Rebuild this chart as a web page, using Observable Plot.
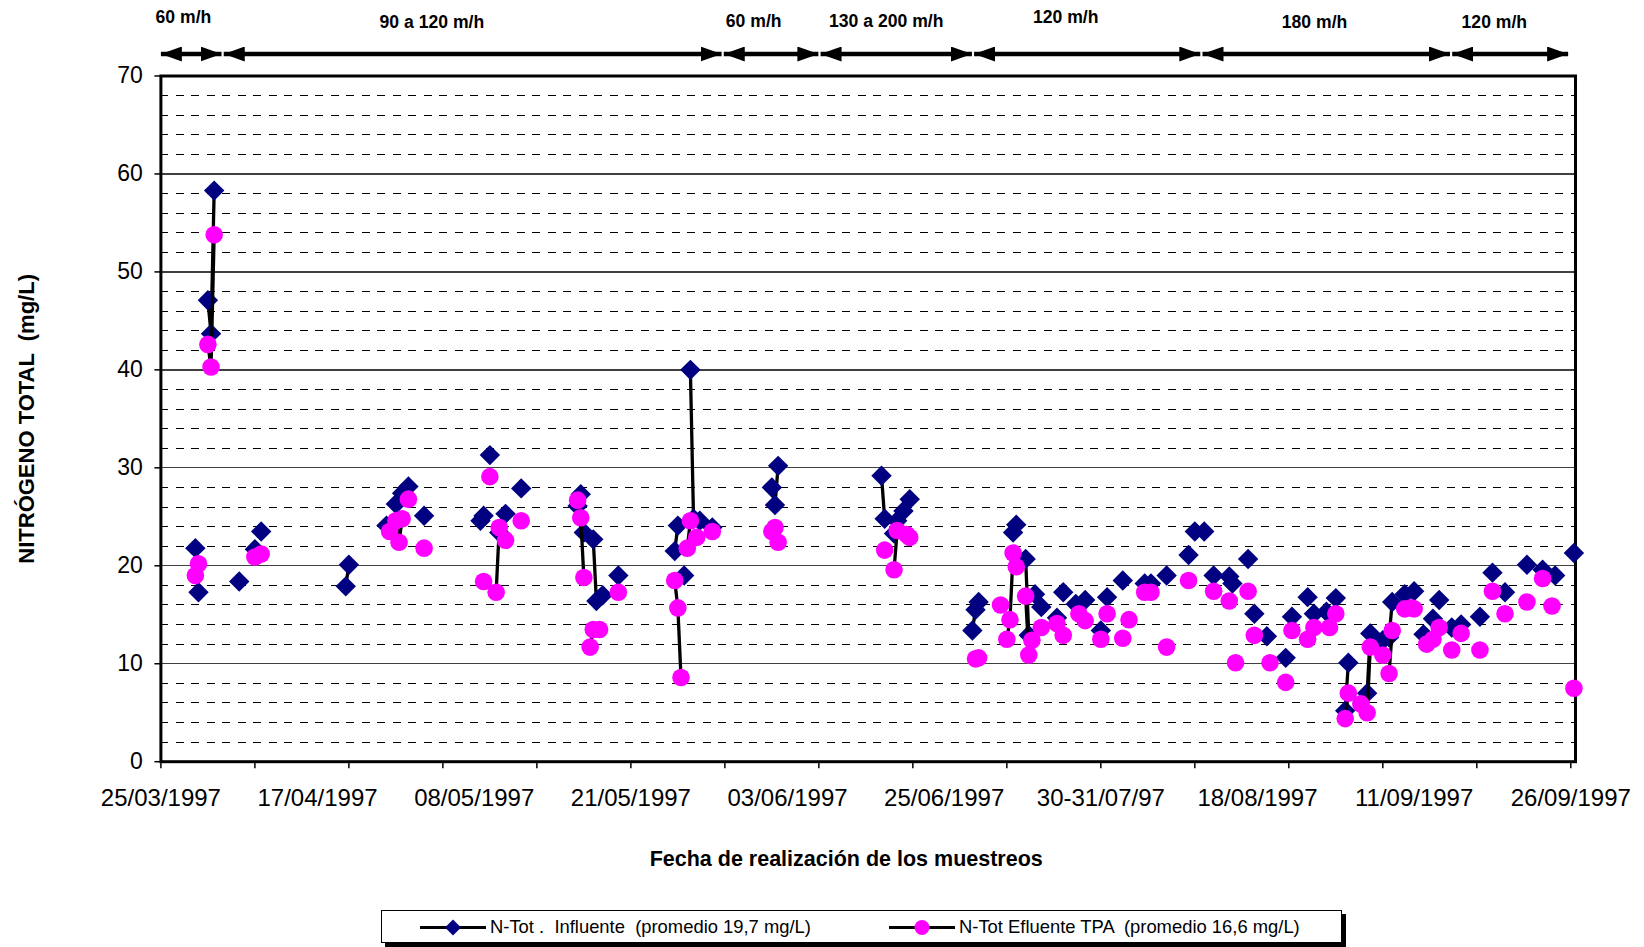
<!DOCTYPE html>
<html>
<head>
<meta charset="utf-8">
<script src="https://cdn.jsdelivr.net/npm/d3@7"></script>
<script src="https://cdn.jsdelivr.net/npm/@observablehq/plot@0.6"></script>
<style>
  html, body { margin: 0; padding: 0; background: #fff; }
  body { width: 1644px; height: 947px; overflow: hidden; font-family: Arial, "Liberation Sans", sans-serif; }
  #chart svg { display: block; }
  #chart svg text { white-space: pre; }
  #legend { position: relative; box-sizing: border-box; margin-left: 381px; margin-top: 10px;
            width: 961px; height: 33px; border: 1px solid #000; box-shadow: 4px 4px 0 #000; background: #fff; }
  .item { position: absolute; top: 0; height: 31px; display: flex; align-items: center;
          font-size: 18.4px; color: #000; white-space: pre; }
  .item svg { display: block; }
  .item span { margin-left: 3px; }
</style>
</head>
<body>
<div id="chart"></div>
<div id="legend"></div>
<script>
// ---------- DATA ----------
// x = sample number on the category axis (0 … 451), y = total nitrogen (mg/L)
const influente = [
  [11,21.8],[12,17.3],[15,47.1],[16,43.7],[17,58.3],[25,18.4],[30,21.7],[32,23.5],[59,17.9],[60,20.1],
  [72,24.1],[75,26.3],[77,27.4],[79,28.1],[84,25.1],[102,24.6],[103,25.1],[105,31.3],[108,23.4],[110,25.3],
  [115,27.9],[133,26.1],[134,27.3],[135,23.4],[138,22.7],[139,16.4],[141,17.0],[146,19.0],[164,21.5],[165,24.1],
  [167,19.0],[169,40.0],[170,24.8],[172,24.6],[176,23.9],[195,28.0],[196,26.2],[197,30.2],[230,29.2],[231,24.8],
  [234,23.3],[235,24.6],[237,25.6],[239,26.8],[259,13.4],[260,15.5],[261,16.3],[272,23.4],[273,24.2],[276,20.7],
  [277,12.9],[279,17.1],[281,15.8],[286,14.7],[288,17.3],[292,16.1],[295,16.5],[300,13.4],[302,16.8],[307,18.5],
  [314,18.2],[316,18.2],[321,19.0],[328,21.1],[330,23.5],[333,23.5],[336,19.0],[341,18.9],[342,18.2],[347,20.7],
  [349,15.1],[353,12.8],[359,10.6],[361,14.8],[366,16.8],[368,15.1],[372,15.3],[375,16.7],[378,5.2],[379,10.1],
  [385,7.0],[386,13.1],[390,12.4],[392,12.7],[393,16.3],[397,17.1],[400,17.4],[403,13.0],[406,14.6],[408,16.5],
  [412,13.7],[415,14.0],[421,14.8],[425,19.3],[429,17.3],[436,20.1],[441,19.6],[445,19.0],[451,21.3]
];
const efluente = [
  [11,19.0],[12,20.2],[15,42.6],[16,40.3],[17,53.8],[30,20.9],[32,21.2],[73,23.5],[75,24.6],[76,22.4],
  [77,24.8],[79,26.8],[84,21.8],[103,18.4],[105,29.1],[107,17.3],[108,23.9],[110,22.6],[115,24.6],[133,26.7],
  [134,24.9],[135,18.8],[137,11.7],[138,13.5],[140,13.5],[146,17.3],[164,18.5],[165,15.7],[166,8.6],[168,21.8],
  [169,24.6],[171,22.9],[176,23.5],[195,23.5],[196,23.9],[197,22.4],[231,21.6],[234,19.6],[235,23.6],[238,23.2],
  [239,22.9],[260,10.5],[261,10.6],[268,16.0],[270,12.5],[271,14.5],[272,21.3],[273,19.9],[276,16.9],[277,10.9],
  [278,12.4],[281,13.7],[286,14.1],[288,12.9],[293,15.1],[295,14.4],[300,12.5],[302,15.1],[307,12.6],[309,14.5],
  [314,17.3],[316,17.3],[321,11.7],[328,18.5],[336,17.4],[341,16.4],[343,10.1],[347,17.4],[349,12.9],[354,10.1],
  [359,8.1],[361,13.4],[366,12.5],[368,13.7],[373,13.7],[375,15.1],[378,4.4],[379,7.0],[383,5.9],[385,5.0],
  [386,11.7],[390,10.9],[392,9.0],[393,13.4],[397,15.6],[399,15.7],[400,15.6],[404,12.0],[406,12.5],[408,13.7],
  [412,11.4],[415,13.1],[421,11.4],[425,17.4],[429,15.1],[436,16.3],[441,18.7],[444,15.9],[451,7.5]
];
const seriesNames = ["N-Tot .  Influente  (promedio 19,7 mg/L)", "N-Tot Efluente TPA  (promedio 16,6 mg/L)"];

// category axis labels (sample number where each date label sits)
const xLabelAt = [0, 50, 100, 150, 200, 250, 300, 350, 400, 450];
const xLabels = ["25/03/1997","17/04/1997","08/05/1997","21/05/1997","03/06/1997",
                 "25/06/1997","30-31/07/97","18/08/1997","11/09/1997","26/09/1997"];
const xTickAt = d3.range(0, 451, 30);
const yTicks = [0, 10, 20, 30, 40, 50, 60, 70];

// flow-rate periods (sample number limits)
const periodStart = [0, 19.7, 179.3, 210.2, 259.2, 332.1, 411.8];
const periodEnd   = [19.7, 179.3, 210.2, 259.2, 332.1, 411.8, 449.5];
const periodLabel = ["60 m/h", "90 a 120 m/h", "60 m/h", "130 a 200 m/h", "120 m/h", "180 m/h", "120 m/h"];

// ---------- LAYOUT ----------
const W = 1644, H = 900;
const FONT = "Arial, 'Liberation Sans', sans-serif";
const colInf = "#000080", colEfl = "#FF00FF";
const periodLabelX = [7.2, 86.5, 189.2, 231.5, 288.8, 368.2, 425.6];   // label anchor on x scale
const periodLabelDy = [-58.8, -53.8, -54.8, -54.8, -58.8, -53.8, -53.8];

const fullSeries = pairs => {
  const m = new Map(pairs);
  return d3.range(0, 452).map(i => ({i, v: m.has(i) ? m.get(i) : NaN}));
};
const labelMap = new Map(xLabelAt.map((d, k) => [d, xLabels[k]]));
const majorGrid = [10, 20, 30, 40, 50, 60];
const minorGrid = d3.range(2, 70, 2).filter(v => v % 10 !== 0);

function arrowHead(color, context) {
  const doc = (context && context.document) || document;
  const ns = "http://www.w3.org/2000/svg";
  const m = doc.createElementNS(ns, "marker");
  m.setAttribute("viewBox", "-21 -7.5 21 15");
  m.setAttribute("markerWidth", 21);
  m.setAttribute("markerHeight", 15);
  m.setAttribute("markerUnits", "userSpaceOnUse");
  m.setAttribute("refX", 0);
  m.setAttribute("refY", 0);
  m.setAttribute("orient", "auto-start-reverse");
  const p = doc.createElementNS(ns, "path");
  p.setAttribute("d", "M-21,-7.5L0,0L-21,7.5Z");
  p.setAttribute("fill", color);
  p.setAttribute("stroke", "none");
  m.appendChild(p);
  return m;
}

const periods = periodStart.map((s, k) => ({x1: s + (k ? 0.35 : 0), x2: periodEnd[k] - 0.35, label: periodLabel[k], lx: periodLabelX[k], dy: periodLabelDy[k]}));

const periodLabelMarks = periods.map(p =>
  Plot.text([p], {x: "lx", y: () => 70, text: "label", dy: p.dy, fontSize: 17.6, fontWeight: "bold", fill: "black"})
);

const chart = Plot.plot({
  width: W, height: H,
  marginLeft: 160.4, marginRight: 69, marginTop: 75.5, marginBottom: H - 761.2,
  style: {fontFamily: FONT, fontSize: "23px", background: "white", color: "black", overflow: "visible"},
  x: {domain: [0, 451.5], axis: null},
  y: {domain: [0, 70], axis: null},
  marks: [
    Plot.ruleY(minorGrid, {stroke: "#000", strokeWidth: 1, strokeDasharray: "8,7.5", shapeRendering: "crispEdges"}),
    Plot.ruleY(majorGrid, {stroke: "#404040", strokeWidth: 1.3, shapeRendering: "crispEdges"}),
    Plot.axisY({ticks: yTicks, tickSize: 6, tickPadding: 12, fontSize: 23, label: null, strokeWidth: 1.5}),
    Plot.axisX({ticks: xTickAt, tickSize: 7, tickFormat: () => "", label: null, strokeWidth: 1.5}),
    Plot.axisX({ticks: xLabelAt, tickSize: 0, tickPadding: 27, tickFormat: d => labelMap.get(d), fontSize: 24, label: null}),
    Plot.frame({stroke: "black", strokeWidth: 3}),
    Plot.line(fullSeries(influente), {x: "i", y: "v", stroke: "black", strokeWidth: 3.3}),
    Plot.dot(influente, {x: d => d[0], y: d => d[1], symbol: "diamond2", r: 9.2, fill: colInf}),
    Plot.line(fullSeries(efluente), {x: "i", y: "v", stroke: "black", strokeWidth: 3.3}),
    Plot.dot(efluente, {x: d => d[0], y: d => d[1], symbol: "circle", r: 8.8, fill: colEfl}),
    Plot.link(periods, {x1: "x1", x2: "x2", y1: () => 70, y2: () => 70, dy: -22, stroke: "black", strokeWidth: 4.3,
                        markerStart: arrowHead, markerEnd: arrowHead}),
    ...periodLabelMarks,
    Plot.text(["Fecha de realización de los muestreos"], {text: d => d, frameAnchor: "bottom", dx: -22, dy: 104.5,
               textAnchor: "middle", fontSize: 21.5, fontWeight: "bold", fill: "black"}),
    Plot.text(["NITRÓGENO TOTAL  (mg/L)"], {text: d => d, frameAnchor: "left", rotate: -90, dx: -134.4,
               textAnchor: "middle", lineAnchor: "middle", fontSize: 22, fontWeight: "bold", fill: "black"})
  ]
});
document.getElementById("chart").appendChild(chart);

// ---------- LEGEND ----------
const legend = document.getElementById("legend");
const legendItems = [
  {name: seriesNames[0], left: 38, sym: `<path d="M33,8.5L41,16.5L33,24.5L25,16.5Z" fill="${colInf}"/>`},
  {name: seriesNames[1], left: 507, sym: `<circle cx="33" cy="16.5" r="7.5" fill="${colEfl}"/>`}
];
legendItems.forEach(it => {
  const div = document.createElement("div");
  div.className = "item";
  div.style.left = it.left + "px";
  div.innerHTML = `<svg width="67" height="31" viewBox="0 0 67 31"><line x1="0" x2="66" y1="16.5" y2="16.5" stroke="black" stroke-width="3"/>${it.sym}</svg><span>${it.name}</span>`;
  legend.appendChild(div);
});
</script>
</body>
</html>
